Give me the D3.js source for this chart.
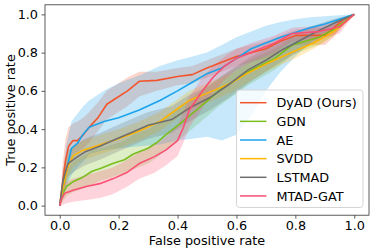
<!DOCTYPE html>
<html>
<head>
<meta charset="utf-8">
<script src="https://cdn.jsdelivr.net/npm/d3@7"></script>
<style>
  body { margin: 0; background: #fff; }
  text { font-family: "DejaVu Sans", sans-serif; }
</style>
</head>
<body>
<div id="canvas"></div>
<script>
"use strict"

/* ROC data: mean curve plus the shaded band around it */
let dyadFpr = [0, 0.01, 0.02, 0.03, 0.045, 0.06, 0.08, 0.1, 0.13, 0.16, 0.19, 0.23, 0.27, 0.33, 0.4, 0.45, 0.5, 0.55, 0.6, 0.65, 0.7, 0.75, 0.8, 0.85, 0.9, 0.93, 0.96, 1];
let dyadTpr = [0, 0.12, 0.24, 0.31, 0.34, 0.34, 0.37, 0.41, 0.46, 0.53, 0.56, 0.6, 0.65, 0.655, 0.675, 0.685, 0.72, 0.75, 0.78, 0.8, 0.82, 0.86, 0.89, 0.89, 0.89, 0.93, 0.97, 1];
let dyadLow = [0, 0.05, 0.14, 0.22, 0.27, 0.28, 0.3, 0.33, 0.39, 0.45, 0.48, 0.52, 0.57, 0.6, 0.63, 0.64, 0.67, 0.7, 0.73, 0.75, 0.77, 0.81, 0.84, 0.84, 0.84, 0.88, 0.94, 1];
let dyadHigh = [0, 0.22, 0.35, 0.41, 0.43, 0.44, 0.46, 0.49, 0.54, 0.6, 0.63, 0.67, 0.7, 0.7, 0.72, 0.73, 0.76, 0.79, 0.82, 0.84, 0.86, 0.89, 0.92, 0.93, 0.93, 0.96, 0.98, 1];

let gdnFpr = [0, 0.01, 0.023, 0.045, 0.08, 0.11, 0.14, 0.18, 0.22, 0.25, 0.3, 0.33, 0.36, 0.41, 0.48, 0.54, 0.64, 0.73, 0.79, 0.88, 0.93, 1];
let gdnTpr = [0, 0.06, 0.1, 0.125, 0.15, 0.18, 0.195, 0.22, 0.24, 0.27, 0.3, 0.33, 0.37, 0.43, 0.52, 0.6, 0.7, 0.77, 0.84, 0.88, 0.92, 1];
let gdnLow = [0, 0.02, 0.05, 0.07, 0.09, 0.11, 0.13, 0.15, 0.17, 0.19, 0.22, 0.25, 0.29, 0.35, 0.44, 0.52, 0.63, 0.71, 0.79, 0.84, 0.89, 1];
let gdnHigh = [0, 0.12, 0.18, 0.23, 0.26, 0.29, 0.3, 0.32, 0.34, 0.37, 0.4, 0.43, 0.47, 0.52, 0.6, 0.67, 0.76, 0.82, 0.88, 0.91, 0.94, 1];

let aeFpr = [0, 0.01, 0.023, 0.04, 0.06, 0.08, 0.1, 0.15, 0.2, 0.27, 0.34, 0.4, 0.45, 0.5, 0.55, 0.6, 0.65, 0.7, 0.75, 0.8, 0.85, 0.9, 0.95, 1];
let aeTpr = [0, 0.08, 0.185, 0.3, 0.325, 0.375, 0.41, 0.44, 0.46, 0.5, 0.55, 0.6, 0.645, 0.69, 0.72, 0.77, 0.82, 0.85, 0.88, 0.905, 0.93, 0.95, 0.975, 1];
let aeLow = [0, 0.04, 0.1, 0.16, 0.2, 0.23, 0.27, 0.29, 0.3, 0.31, 0.32, 0.34, 0.35, 0.36, 0.34, 0.37, 0.47, 0.6, 0.7, 0.78, 0.85, 0.9, 0.95, 1];
let aeHigh = [0, 0.16, 0.32, 0.44, 0.48, 0.52, 0.55, 0.6, 0.64, 0.68, 0.73, 0.76, 0.78, 0.8, 0.84, 0.88, 0.91, 0.94, 0.96, 0.975, 0.985, 0.99, 0.995, 1];

let svddFpr = [0, 0.01, 0.025, 0.045, 0.08, 0.14, 0.2, 0.27, 0.34, 0.44, 0.52, 0.58, 0.635, 0.7, 0.8, 0.862, 0.93, 1];
let svddTpr = [0, 0.08, 0.19, 0.26, 0.29, 0.32, 0.35, 0.39, 0.44, 0.55, 0.6, 0.64, 0.69, 0.74, 0.81, 0.85, 0.91, 1];
let svddLow = [0, 0.04, 0.13, 0.2, 0.24, 0.27, 0.3, 0.34, 0.39, 0.5, 0.55, 0.59, 0.64, 0.7, 0.77, 0.82, 0.89, 1];
let svddHigh = [0, 0.13, 0.25, 0.31, 0.34, 0.37, 0.4, 0.44, 0.49, 0.6, 0.65, 0.69, 0.74, 0.78, 0.85, 0.88, 0.93, 1];

let lstmFpr = [0, 0.011, 0.028, 0.05, 0.085, 0.136, 0.18, 0.24, 0.3, 0.38, 0.44, 0.51, 0.58, 0.64, 0.7, 0.75, 0.86, 0.94, 1];
let lstmTpr = [0, 0.13, 0.22, 0.245, 0.28, 0.31, 0.34, 0.38, 0.42, 0.45, 0.51, 0.565, 0.64, 0.71, 0.76, 0.81, 0.9, 0.96, 1];
let lstmLow = [0, 0.07, 0.15, 0.18, 0.21, 0.24, 0.27, 0.31, 0.35, 0.38, 0.44, 0.5, 0.57, 0.64, 0.7, 0.75, 0.85, 0.93, 1];
let lstmHigh = [0, 0.19, 0.29, 0.31, 0.35, 0.38, 0.41, 0.45, 0.49, 0.52, 0.58, 0.63, 0.71, 0.77, 0.82, 0.86, 0.94, 0.98, 1];

let mtadFpr = [0, 0.005, 0.017, 0.045, 0.09, 0.136, 0.18, 0.23, 0.27, 0.32, 0.36, 0.4, 0.42, 0.44, 0.48, 0.52, 0.56, 0.6, 0.65, 0.73, 0.79, 0.88, 0.95, 1];
let mtadTpr = [0, 0.03, 0.065, 0.08, 0.1, 0.115, 0.14, 0.175, 0.22, 0.255, 0.29, 0.34, 0.41, 0.5, 0.59, 0.67, 0.73, 0.77, 0.8, 0.85, 0.9, 0.91, 0.935, 1];
let mtadLow = [0, 0.0, 0.01, 0.02, 0.03, 0.04, 0.06, 0.1, 0.14, 0.17, 0.21, 0.26, 0.33, 0.41, 0.5, 0.59, 0.66, 0.71, 0.75, 0.8, 0.86, 0.87, 0.9, 1];
let mtadHigh = [0, 0.07, 0.12, 0.14, 0.16, 0.18, 0.2, 0.24, 0.28, 0.32, 0.36, 0.42, 0.49, 0.57, 0.66, 0.73, 0.78, 0.82, 0.85, 0.89, 0.93, 0.94, 0.96, 1];

let methodNames = ["DyAD (Ours)", "GDN", "AE", "SVDD", "LSTMAD", "MTAD-GAT"];
let methodColors = ["#f2552c", "#7abd1e", "#1ba3ec", "#ffb400", "#6f6f6f", "#fb4f73"];
let tickValues = [0, 0.2, 0.4, 0.6, 0.8, 1.0];

let fprList = [dyadFpr, gdnFpr, aeFpr, svddFpr, lstmFpr, mtadFpr];
let tprList = [dyadTpr, gdnTpr, aeTpr, svddTpr, lstmTpr, mtadTpr];
let lowList = [dyadLow, gdnLow, aeLow, svddLow, lstmLow, mtadLow];
let highList = [dyadHigh, gdnHigh, aeHigh, svddHigh, lstmHigh, mtadHigh];

let series = methodNames.map((name, i) => ({
    name: name,
    color: methodColors[i],
    points: fprList[i].map((f, j) => ({ f: f, t: tprList[i][j], lo: lowList[i][j], hi: highList[i][j] }))
}));

/* drawing canvas */
let drawing = d3.select("#canvas")
    .append("svg")
    .attr("width", 374)
    .attr("height", 252);

let x = d3.scaleLinear().domain([-0.05, 1.05]).range([45, 369]);
let y = d3.scaleLinear().domain([-0.05, 1.05]).range([215.2, 4.8]);

/* bands first, then the curves on top */
let band = d3.area()
    .x(d => x(d.f))
    .y0(d => y(d.lo))
    .y1(d => y(d.hi));

let line = d3.line()
    .x(d => x(d.f))
    .y(d => y(d.t));

drawing.append("g").selectAll("path")
    .data(series)
    .join("path")
    .attr("d", d => band(d.points))
    .attr("fill", d => d.color)
    .attr("fill-opacity", 0.25)
    .attr("stroke", "none");

drawing.append("g").selectAll("path")
    .data(series)
    .join("path")
    .attr("d", d => line(d.points))
    .attr("fill", "none")
    .attr("stroke", d => d.color)
    .attr("stroke-width", 1.6)
    .attr("stroke-linejoin", "round");

/* axes */
let xAxis = drawing.append("g")
    .attr("transform", "translate(0,215.2)")
    .call(d3.axisBottom(x).tickValues(tickValues).tickFormat(d3.format(".1f")).tickSize(3.5).tickPadding(2.5).tickSizeOuter(0));

let yAxis = drawing.append("g")
    .attr("transform", "translate(45,0)")
    .call(d3.axisLeft(y).tickValues(tickValues).tickFormat(d3.format(".1f")).tickSize(3.5).tickPadding(3.5).tickSizeOuter(0));

drawing.selectAll(".domain").remove();
xAxis.attr("font-size", 12.8).attr("font-family", "DejaVu Sans");
yAxis.attr("font-size", 12.8).attr("font-family", "DejaVu Sans");
drawing.selectAll(".tick line").attr("stroke", "#333").attr("stroke-width", 0.8);
drawing.selectAll(".tick text").attr("fill", "#000");

/* frame */
let frame = drawing.append("rect")
    .attr("x", 45)
    .attr("y", 4.8)
    .attr("width", 324)
    .attr("height", 210.4)
    .attr("fill", "none")
    .attr("stroke", "#333")
    .attr("stroke-width", 0.8);

/* axis titles */
drawing.append("text")
    .attr("x", 207)
    .attr("y", 244.5)
    .attr("text-anchor", "middle")
    .style("font-size", "12.8px")
    .text("False positive rate");

drawing.append("text")
    .attr("transform", "translate(14.5,110) rotate(-90)")
    .attr("text-anchor", "middle")
    .style("font-size", "12.8px")
    .text("True positive rate");

/* legend */
let legend = drawing.append("g");

legend.append("rect")
    .attr("x", 236.5)
    .attr("y", 90)
    .attr("width", 126.5)
    .attr("height", 117.5)
    .attr("rx", 3)
    .attr("fill", "#fff")
    .attr("fill-opacity", 0.8)
    .attr("stroke", "#d5d5d5")
    .attr("stroke-width", 1);

let rows = legend.selectAll("g.row")
    .data(series)
    .join("g")
    .attr("class", "row")
    .attr("transform", (d, i) => "translate(0," + (102.7 + i * 18.65) + ")");

rows.append("line")
    .attr("x1", 240)
    .attr("x2", 266.5)
    .attr("stroke", d => d.color)
    .attr("stroke-width", 1.5);

rows.append("text")
    .attr("x", 276.5)
    .attr("y", 4.6)
    .style("font-size", "12.8px")
    .text(d => d.name);
</script>
</body>
</html>
